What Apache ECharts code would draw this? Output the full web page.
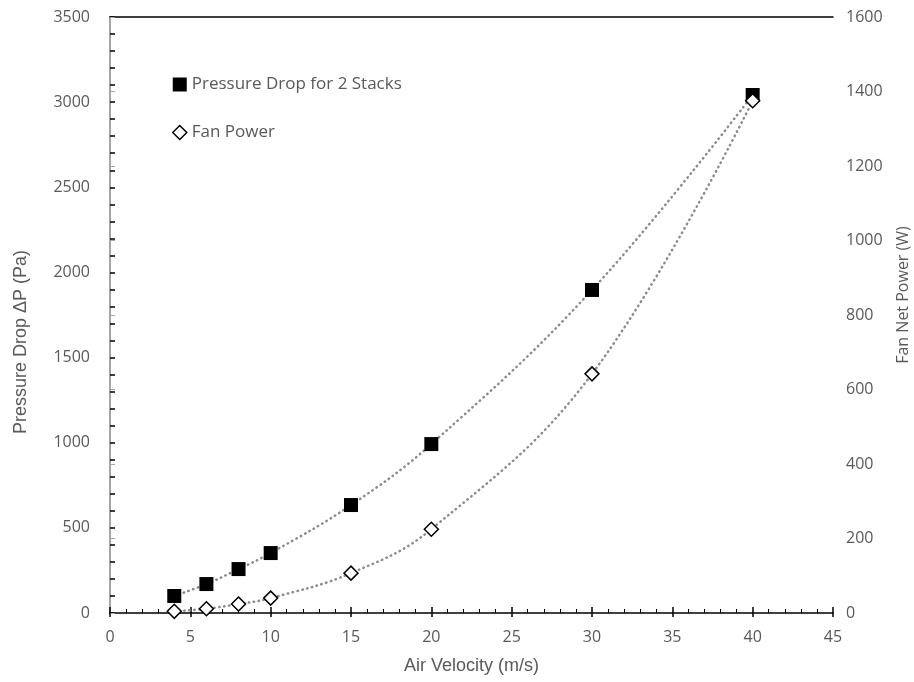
<!DOCTYPE html>
<html>
<head>
<meta charset="utf-8">
<script src="https://cdn.jsdelivr.net/npm/echarts@6/dist/echarts.min.js"></script>
<style>
  html, body { margin: 0; padding: 0; background: #fff; }
  #chart { width: 914px; height: 682px; }
</style>
</head>
<body>
<div id="chart"></div>
<script>
// Pressure drop and fan power vs air velocity
const velocity = [4, 6, 8, 10, 15, 20, 30, 40];
const pressureDrop = [100, 170, 258, 352, 634, 992, 1897, 3042];
const fanPower = [4.5, 11.5, 24, 40, 107, 225, 642, 1375];

const TXT = '#595959';
const tickFont = { color: TXT, fontSize: 16, fontFamily: 'Open Sans', formatter: v => String(v) };

const chart = echarts.init(document.getElementById('chart'), null, { renderer: 'canvas' });

const dotted = { color: '#8c8c8c', width: 2.5, type: [0.5, 4.5], cap: 'round' };

chart.setOption({
  backgroundColor: '#fff',
  animation: false,
  grid: { left: 110, right: 81, top: 17, bottom: 69, outerBoundsMode: 'none', containLabel: false },
  legend: {
    orient: 'vertical',
    left: 167, top: 71,
    itemWidth: 14, itemHeight: 14, itemGap: 31,
    textStyle: { color: TXT, fontSize: 17, fontFamily: 'Open Sans' },
    data: [
      { name: 'Pressure Drop for 2 Stacks', icon: 'rect',
        itemStyle: { color: '#000', borderWidth: 0 } },
      { name: 'Fan Power', icon: 'diamond',
        itemStyle: { color: '#fff', borderColor: '#000', borderWidth: 1.5 } },
    ],
  },
  xAxis: [
    {
      type: 'value', min: 0, max: 45, interval: 5,
      name: 'Air Velocity (m/s)', nameLocation: 'middle', nameGap: 44,
      nameTextStyle: { color: TXT, fontSize: 18, fontFamily: 'Liberation Sans' },
      axisLine: { lineStyle: { color: '#000', width: 1.5 } },
      axisTick: { inside: true, length: 6, lineStyle: { color: '#000', width: 1.5 } },
      minorTick: { show: true, splitNumber: 5, length: 4, lineStyle: { color: '#000' } },
      axisLabel: { ...tickFont, margin: 16 },
      splitLine: { show: false },
    },
    {
      type: 'value', min: 0, max: 45, interval: 5, position: 'bottom',
      axisLine: { show: false },
      axisTick: { inside: false, length: 4, lineStyle: { color: '#000', width: 1.5 } },
      axisLabel: { show: false },
      splitLine: { show: false },
    },
    {
      type: 'value', min: 0, max: 45, position: 'top',
      axisLine: { lineStyle: { color: '#000', width: 1.5 } },
      axisTick: { show: false },
      axisLabel: { show: false },
      splitLine: { show: false },
    },
  ],
  yAxis: [
    {
      type: 'value', min: 0, max: 3500, interval: 500, position: 'left',
      name: 'Pressure Drop ΔP (Pa)', nameLocation: 'middle', nameGap: 80,
      nameTextStyle: { color: TXT, fontSize: 18, fontFamily: 'Liberation Sans', padding: [0, 54, 0, 0] },
      axisLine: { lineStyle: { color: '#000', width: 1.5 } },
      axisTick: { inside: true, length: 5, lineStyle: { color: '#000', width: 1.5 } },
      minorTick: { show: true, splitNumber: 5, length: 5, lineStyle: { color: '#000', width: 1.5 } },
      axisLabel: { ...tickFont, margin: 20 },
      splitLine: { show: false },
    },
    {
      type: 'value', min: 0, max: 1600, interval: 200, position: 'right',
      name: 'Fan Net Power (W)', nameLocation: 'middle', nameGap: 62,
      nameTextStyle: { color: TXT, fontSize: 16, fontFamily: 'Open Sans', padding: [0, 0, 0, 40] },
      axisLine: { lineStyle: { color: '#a6a6a6', width: 2 } },
      axisTick: { inside: false, length: 5, lineStyle: { color: '#a6a6a6' } },
      axisLabel: { ...tickFont, margin: 13 },
      splitLine: { show: false },
    },
  ],
  series: [
    {
      name: 'Pressure Drop for 2 Stacks', type: 'line', smooth: 0.4,
      xAxisIndex: 0, yAxisIndex: 0,
      symbol: 'rect', symbolSize: 14,
      itemStyle: { color: '#000', borderWidth: 0 },
      lineStyle: dotted,
      data: velocity.map((v, i) => [v, pressureDrop[i]]),
    },
    {
      name: 'Fan Power', type: 'line', smooth: 0.4,
      xAxisIndex: 0, yAxisIndex: 1,
      symbol: 'diamond', symbolSize: 14, showAllSymbol: true,
      itemStyle: { color: '#fff', borderColor: '#000', borderWidth: 1.5 },
      lineStyle: dotted,
      data: velocity.map((v, i) => [v, fanPower[i]]),
    },
  ],
});
</script>
</body>
</html>
